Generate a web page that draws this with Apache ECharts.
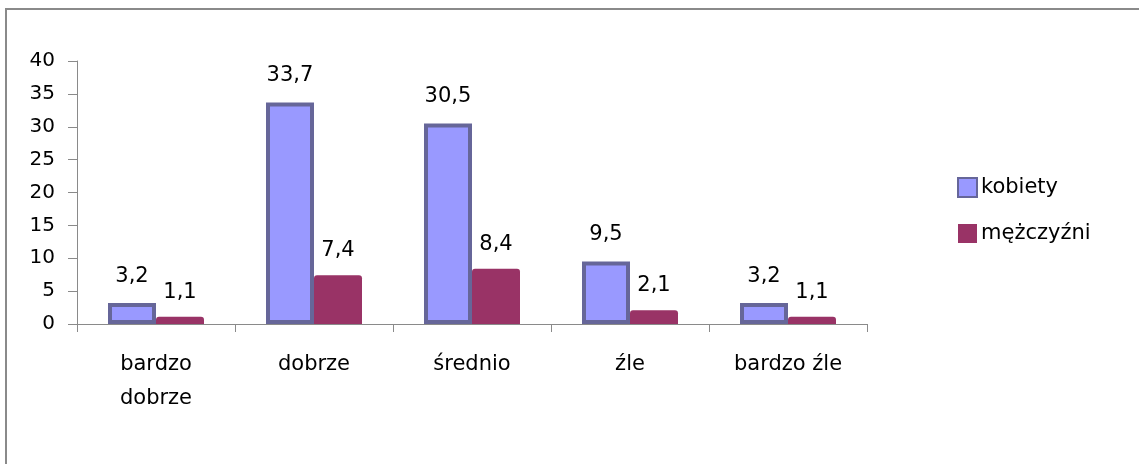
<!DOCTYPE html>
<html>
<head>
<meta charset="utf-8">
<script src="https://cdn.jsdelivr.net/npm/echarts@6/dist/echarts.min.js"></script>
<style>
  html, body { margin: 0; padding: 0; background: #ffffff; }
  #chart { width: 1139px; height: 464px; }
</style>
</head>
<body>
<div id="chart"></div>
<script>
// Self-assessment answers by sex (percent)
const categories = ['bardzo dobrze', 'dobrze', 'średnio', 'źle', 'bardzo źle'];
const kobiety = [3.2, 33.7, 30.5, 9.5, 3.2];
const mezczyzni = [1.1, 7.4, 8.4, 2.1, 1.1];
const seriesNames = ['kobiety', 'mężczyźni'];
const yTicks = { min: 0, max: 40, interval: 5 };

const FONT = 'DejaVu Sans';
const fmtComma = v => String(v).replace('.', ',');
// long category names wrap onto two lines
const wrapLabel = v => (v.length > 12 ? v.replace(' ', '\n') : v);

const chart = echarts.init(document.getElementById('chart'), null, { renderer: 'canvas' });

chart.setOption({
  animation: false,
  backgroundColor: '#ffffff',
  textStyle: { fontFamily: FONT, color: '#000' },
  graphic: [{
    type: 'rect',
    shape: { x: 6, y: 9, width: 1300, height: 600 },
    style: { fill: 'none', stroke: '#8a8a8a', lineWidth: 2 },
    silent: true
  }],
  grid: { left: 77, right: 272, top: 61, bottom: 140, containLabel: false },
  legend: {
    orient: 'vertical',
    left: 952,
    top: 172,
    itemWidth: 19,
    itemHeight: 19,
    itemGap: 25,
    icon: 'rect',
    textStyle: { fontFamily: FONT, fontSize: 21, color: '#000', padding: [0, 0, 0, -1] },
    data: seriesNames
  },
  xAxis: {
    type: 'category',
    data: categories,
    axisLine: { show: true, lineStyle: { color: '#8a8a8a', width: 1 } },
    axisTick: { show: true, alignWithLabel: false, length: 8, lineStyle: { color: '#8a8a8a', width: 1 } },
    axisLabel: {
      interval: 0,
      margin: 24,
      fontFamily: FONT,
      fontSize: 21,
      lineHeight: 34,
      color: '#000',
      formatter: wrapLabel
    }
  },
  yAxis: {
    type: 'value',
    min: yTicks.min,
    max: yTicks.max,
    interval: yTicks.interval,
    axisLine: { show: true, lineStyle: { color: '#8a8a8a', width: 1 } },
    axisTick: { show: true, length: 9, lineStyle: { color: '#8a8a8a' } },
    axisLabel: { margin: 22, fontFamily: FONT, fontSize: 20, color: '#000' },
    splitLine: { show: false }
  },
  series: [
    {
      name: seriesNames[0],
      type: 'bar',
      data: kobiety,
      barWidth: 48,
      barGap: '0%',
      itemStyle: { color: '#9999ff', borderColor: '#666699', borderWidth: 4 },
      label: {
        show: true, position: 'top', distance: 16,
        fontFamily: FONT, fontSize: 21, color: '#000',
        formatter: p => fmtComma(p.value)
      }
    },
    {
      name: seriesNames[1],
      type: 'bar',
      data: mezczyzni,
      barWidth: 48,
      barGap: '0%',
      itemStyle: { color: '#993366', borderRadius: [3, 3, 0, 0] },
      label: {
        show: true, position: 'top', distance: 14,
        fontFamily: FONT, fontSize: 21, color: '#000',
        formatter: p => fmtComma(p.value)
      }
    }
  ]
});
</script>
</body>
</html>
